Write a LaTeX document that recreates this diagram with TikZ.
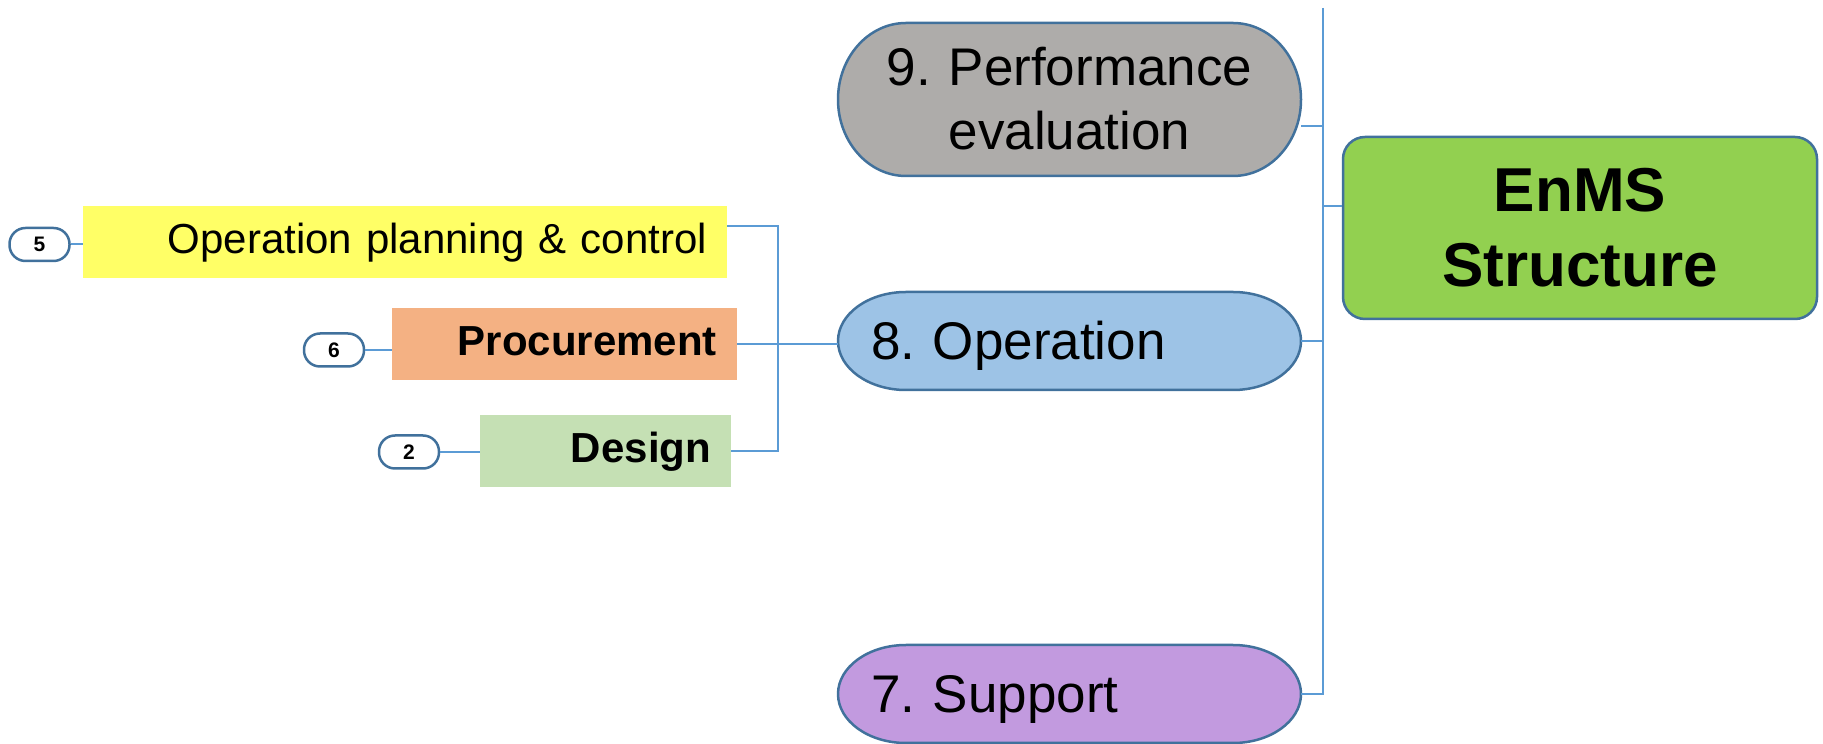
\documentclass[tikz,border=0pt]{standalone}
\usepackage{fontspec}
\setmainfont{Liberation Sans}
\frenchspacing
\definecolor{bord}{HTML}{41719C}
\definecolor{link}{HTML}{5B9BD5}
\definecolor{perfgray}{HTML}{AEACAA}
\definecolor{operblue}{HTML}{9DC3E6}
\definecolor{supppurple}{HTML}{C29ADF}
\definecolor{enmsgreen}{HTML}{92D050}
\definecolor{opcyellow}{HTML}{FFFF66}
\definecolor{procorange}{HTML}{F4B183}
\definecolor{designgreen}{HTML}{C5E0B4}
% pill with elliptical ends: left, bottom, right, top, x radius, y radius, fill
\newcommand\pillpath[7]{%
  \filldraw[pillborder, fill=#7] (#1+#5,#4) -- (#3-#5,#4)
    arc[start angle=90, end angle=0, x radius=#5, y radius=#6]
    -- (#3,#2+#6)
    arc[start angle=0, end angle=-90, x radius=#5, y radius=#6]
    -- (#1+#5,#2)
    arc[start angle=270, end angle=180, x radius=#5, y radius=#6]
    -- (#1,#4-#6)
    arc[start angle=180, end angle=90, x radius=#5, y radius=#6]
    -- cycle;}
\tikzset{
  pillborder/.style={draw=bord, line width=2.5pt},
  conn/.style={draw=link, line width=2pt},
  pilltext/.style={inner sep=0pt, minimum height=#1},
  leftbox/.style={inner ysep=0pt, inner xsep=20pt, minimum height=72pt,
    align=right, text height=27pt, text depth=3pt},
  badge/.style={draw=bord, line width=2.5pt, fill=white, rounded corners=16pt,
    minimum width=60pt, minimum height=33pt, inner sep=0pt,
    font=\fontsize{21}{24}\selectfont\bfseries},
}
\begin{document}
\begin{tikzpicture}[x=1pt, y=1pt]
\useasboundingbox (0,0) rectangle (1823,744);

% main branches
\pillpath{838}{568}{1301}{721}{68}{76.5}{perfgray}
\node[pilltext=153pt, minimum width=463pt, text width=397pt, align=center,
  font=\fontsize{53}{64}\selectfont] (perf) at (1069.5,645)
  {9. Performance\\evaluation};

\pillpath{838}{354}{1301}{452}{68}{49}{operblue}
\node[pilltext=98pt, minimum width=463pt, inner xsep=33pt, text width=397pt,
  align=left, text height=38pt, text depth=0pt,
  font=\fontsize{53}{64}\selectfont] (oper) at (1069.5,403) {8. Operation};

\pillpath{838}{1}{1301}{99}{68}{49}{supppurple}
\node[pilltext=98pt, minimum width=463pt, inner xsep=33pt, text width=397pt,
  align=left, text height=38pt, text depth=0pt,
  font=\fontsize{53}{64}\selectfont] (supp) at (1069.5,50) {7. Support};

% root
\node[draw=bord, line width=2.5pt, fill=enmsgreen, rounded corners=22pt,
  minimum width=474pt, minimum height=182pt, inner sep=0pt, align=center,
  font=\fontsize{62}{75}\selectfont\bfseries] (enms) at (1580,516)
  {EnMS\\Structure};

% sub-topics of 8. Operation
\node[leftbox, fill=opcyellow, minimum width=644pt, text width=604pt,
  font=\fontsize{42}{48}\selectfont] (opc) at (405,502)
  {Operation planning \& control};
\node[leftbox, fill=procorange, minimum width=345pt, text width=305pt,
  font=\fontsize{42}{48}\selectfont\bfseries] (proc) at (564.5,400)
  {Procurement};
\node[leftbox, fill=designgreen, minimum width=251pt, text width=211pt,
  font=\fontsize{42}{48}\selectfont\bfseries] (design) at (605.5,293)
  {Design};

% count badges
\node[badge] (b5) at (39.5,499.5) {5};
\node[badge] (b6) at (334,394) {6};
\node[badge] (b2) at (409,292) {2};

% trunk to the root
\coordinate (trunktop) at (1323,736);
\draw[conn] (trunktop) -- (supp.east -| trunktop) -- (supp.east);
\draw[conn] ([yshift=-27.5pt]perf.east) -- ([yshift=-27.5pt]perf.east -| trunktop);
\draw[conn] (oper.east) -- (oper.east -| trunktop);
\draw[conn] ([yshift=22pt]enms.west) -- ([yshift=22pt]enms.west -| trunktop);

% branch of 8. Operation
\coordinate (br) at (778,518);
\draw[conn] ([yshift=16pt]opc.east) -- (br) |- (design.east);
\draw[conn] (proc.east) -- (proc.east -| oper.west);

% badge links
\draw[conn] (b5.east) -- (b5.east -| opc.west);
\draw[conn] (b6.east) -- (b6.east -| proc.west);
\draw[conn] (b2.east) -- (b2.east -| design.west);
\end{tikzpicture}
\end{document}
